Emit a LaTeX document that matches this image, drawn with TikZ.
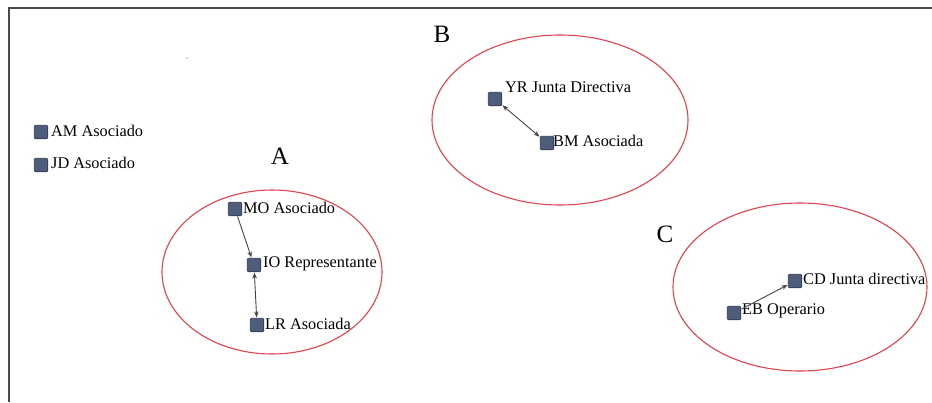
\documentclass[tikz,border=0pt]{standalone}
\usepackage{fontspec}
\setmainfont{Liberation Serif}
\usetikzlibrary{arrows.meta}
\definecolor{nodefill}{HTML}{4E5D7C}
\definecolor{nodeedge}{HTML}{2F3848}
\definecolor{groupred}{HTML}{E0424E}
\definecolor{framegray}{HTML}{4A4A4A}
\definecolor{linkgray}{HTML}{444444}
\tikzset{
  actor/.style={draw=nodeedge, fill=nodefill, line width=0.6pt,
    minimum size=13.5pt, inner sep=0pt, rounded corners=1pt},
  actorname/.style={inner sep=0pt, font=\fontsize{16.3}{19}\selectfont, text=black},
  groupring/.style={draw=groupred, line width=1.1pt},
  grouptag/.style={inner sep=0pt, font=\fontsize{25}{29}\selectfont},
  tieline/.style={draw=linkgray, line width=0.9pt, shorten >=0.5pt, shorten <=0.5pt},
  onetip/.style={-{Stealth[length=6pt,width=4.5pt]}},
  twotips/.style={{Stealth[length=6pt,width=4.5pt]}-{Stealth[length=6pt,width=4.5pt]}}
}
\begin{document}
\begin{tikzpicture}[x=1pt,y=-1pt]
  \useasboundingbox (0,0) rectangle (932,402);
  \fill[white] (0,0) rectangle (932,402);
  % frame along the top and left edges
  \draw[framegray, line width=1.6pt] (9,402) -- (9,8) -- (932,8);
  \fill[black!70] (187,58) circle (0.7pt);

  % groups
  \draw[groupring] (272,272) ellipse [x radius=110, y radius=82];
  \draw[groupring] (560,120) ellipse [x radius=128, y radius=85];
  \draw[groupring] (800,287) ellipse [x radius=127, y radius=84];
  \node[grouptag] (tagA) at (280,156) {A};
  \node[grouptag] (tagB) at (442,34) {B};
  \node[grouptag] (tagC) at (665,234) {C};

  % isolated actors
  \node[actor] (am) at (41,132) {};
  \node[actorname, anchor=west] (amL) at (51,131) {AM Asociado};
  \node[actor] (jd) at (41,165) {};
  \node[actorname, anchor=west] (jdL) at (51,163) {JD Asociado};

  % group A
  \node[actor] (mo) at (235,209) {};
  \node[actorname, anchor=west] (moL) at (243,208) {MO Asociado};
  \node[actor] (io) at (254,265) {};
  \node[actorname, anchor=west] (ioL) at (263,264) {IO Representante};
  \node[actor] (lr) at (257,325) {};
  \node[actorname, anchor=west] (lrL) at (265,324) {LR Asociada};

  % group B
  \node[actor] (yr) at (495,99) {};
  \node[actorname, anchor=west] (yrL) at (505,87) {YR Junta Directiva};
  \node[actor] (bm) at (547,143) {};
  \node[actorname, anchor=west] (bmL) at (553,141) {BM Asociada};

  % group C
  \node[actor] (cd) at (795,281) {};
  \node[actorname, anchor=west] (cdL) at (803,279) {CD Junta directiva};
  \node[actor] (eb) at (734,313) {};
  \node[actorname, anchor=west] (ebL) at (742,311) {EB Operario};

  % ties
  \draw[tieline, onetip] (mo) -- (io);
  \draw[tieline, twotips] (io) -- (lr);
  \draw[tieline, twotips] (yr) -- (bm);
  \draw[tieline, onetip] (eb) -- (cd);
\end{tikzpicture}
\end{document}
